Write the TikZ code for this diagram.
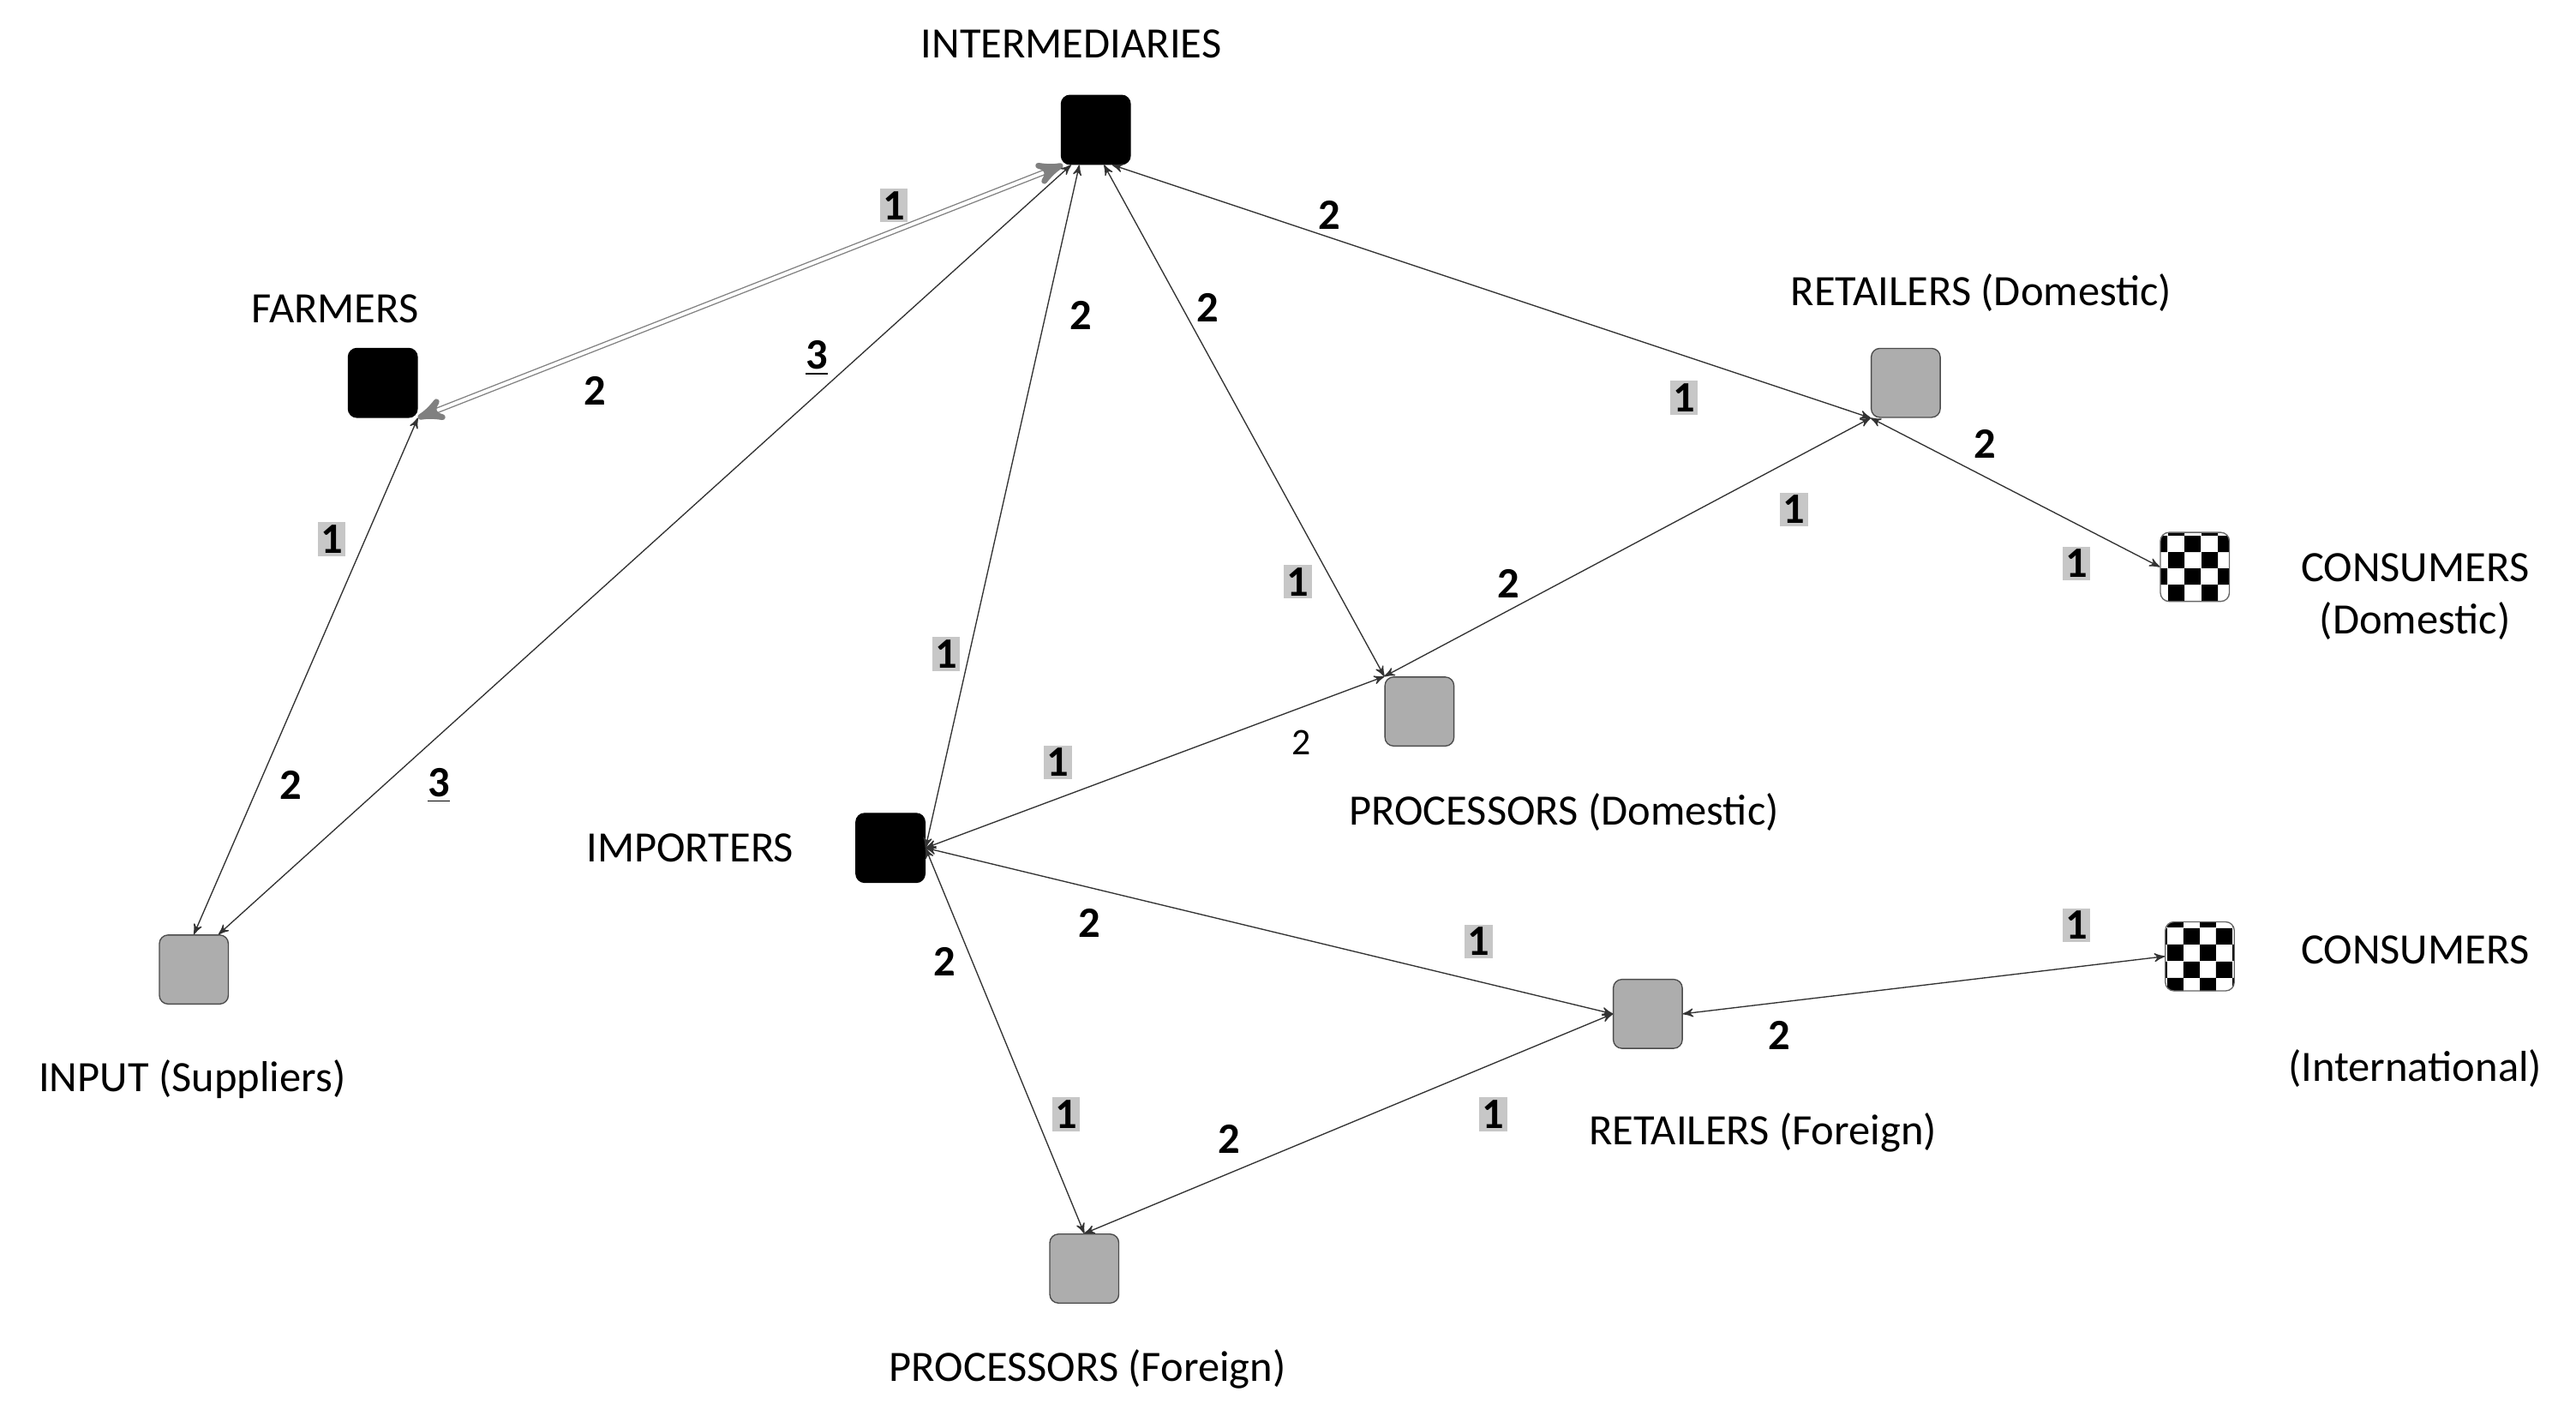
\documentclass[tikz,border=0pt]{standalone}
\usepackage{fontspec}
\setmainfont{Carlito}
\usepackage{tikz}
\usetikzlibrary{patterns,arrows,shapes,positioning}
\tikzset{>=stealth'}

\begin{document}
\begin{tikzpicture}[x=0.02cm,y=-0.02cm,
                    agent/.style={draw=black!70, rounded corners=3pt, minimum size=0.84cm, inner sep=0pt},
                    dark/.style={agent, fill=black, draw=black},
                    grey/.style={agent, fill=black!32},
                    chk/.style={agent, pattern=checkerboard, draw=black!60},
                    link/.style={<->, thin, black!80},
                    wlink/.style={<->, double=white, double distance=1.2pt, draw=black!50},
                    lbl/.style={font=\fontsize{15}{18}\selectfont},
                    num/.style={font=\bfseries\fontsize{15}{18}\selectfont, inner sep=1pt},
                    hl/.style={num, fill=black!22},
                   ]

\useasboundingbox (0,0) rectangle (1568,865);

% agents
\node[dark] (inter) at (667,79) {};
\node[dark] (farm) at (233,233) {};
\node[grey] (input) at (118,590) {};
\node[dark] (imp) at (542,516) {};
\node[grey] (procd) at (864,433) {};
\node[grey] (retd) at (1160,233) {};
\node[chk] (consd) at (1336,345) {};
\node[grey] (retf) at (1003,617) {};
\node[chk] (consi) at (1339,582) {};
\node[grey] (procf) at (660,772) {};

% names
\node[lbl] (tinter) at (652,27) {INTERMEDIARIES};
\node[lbl] (tfarm) at (204,188) {FARMERS};
\node[lbl] (tinput) at (117,657) {INPUT (Suppliers)};
\node[lbl] (timp) at (420,516) {IMPORTERS};
\node[lbl] (tprocd) at (952,494) {PROCESSORS (Domestic)};
\node[lbl] (tretd) at (1206,178) {RETAILERS (Domestic)};
\node[lbl, align=center] (tconsd) at (1470,363) {CONSUMERS\\(Domestic)};
\node[lbl] (tprocf) at (662,833) {PROCESSORS (Foreign)};
\node[lbl] (tretf) at (1073,689) {RETAILERS (Foreign)};
\node[lbl] (tconsi) at (1470,578) {CONSUMERS};
\node[lbl] (tconsi2) at (1470,650) {(International)};

% links
\draw[wlink] (farm.south east) -- ([xshift=-0.4cm]inter.south);
\draw[link] (input.north) -- (farm.south east);
\draw[link] ([xshift=0.3cm]input.north) -- ([xshift=-0.3cm]inter.south);
\draw[link] (imp.east) -- ([xshift=-0.2cm]inter.south);
\draw[link] (procd.north west) -- ([xshift=0.1cm]inter.south);
\draw[link] (retd.south west) -- ([xshift=0.2cm]inter.south);
\draw[link] (procd.north west) -- (retd.south west);
\draw[link] (retd.south west) -- (consd.west);
\draw[link] (imp.east) -- (procd.north west);
\draw[link] (imp.east) -- (retf.west);
\draw[link] (imp.east) -- (procf.north);
\draw[link] (procf.north) -- (retf.west);
\draw[link] (retf.east) -- (consi.west);

% flow numbers
\node[hl] (n1) at (544,125) {1};
\node[num] (n2) at (362,238) {2};
\node[hl] (n3) at (202,328) {1};
\node[num] (n4) at (177,478) {2};
\node[num] (n5) at (497,218) {\underline{3}};
\node[num] (n6) at (267,478) {\underline{3}};
\node[num] (n7) at (658,192) {2};
\node[hl] (n8) at (576,398) {1};
\node[num] (n9) at (735,187) {2};
\node[hl] (n10) at (790,354) {1};
\node[num] (n11) at (809,131) {2};
\node[hl] (n12) at (1025,242) {1};
\node[hl] (n13) at (1092,310) {1};
\node[num] (n14) at (918,355) {2};
\node[num] (n15) at (1208,270) {2};
\node[hl] (n16) at (1264,343) {1};
\node[hl] (n17) at (644,464) {1};
\node[num, font=\fontsize{13}{15}\selectfont] (n18) at (792,452) {2};
\node[num] (n19) at (663,562) {2};
\node[hl] (n20) at (900,573) {1};
\node[num] (n21) at (575,585) {2};
\node[hl] (n22) at (649,678) {1};
\node[num] (n23) at (748,693) {2};
\node[hl] (n24) at (909,678) {1};
\node[hl] (n25) at (1264,563) {1};
\node[num] (n26) at (1083,630) {2};

\end{tikzpicture}
\end{document}
